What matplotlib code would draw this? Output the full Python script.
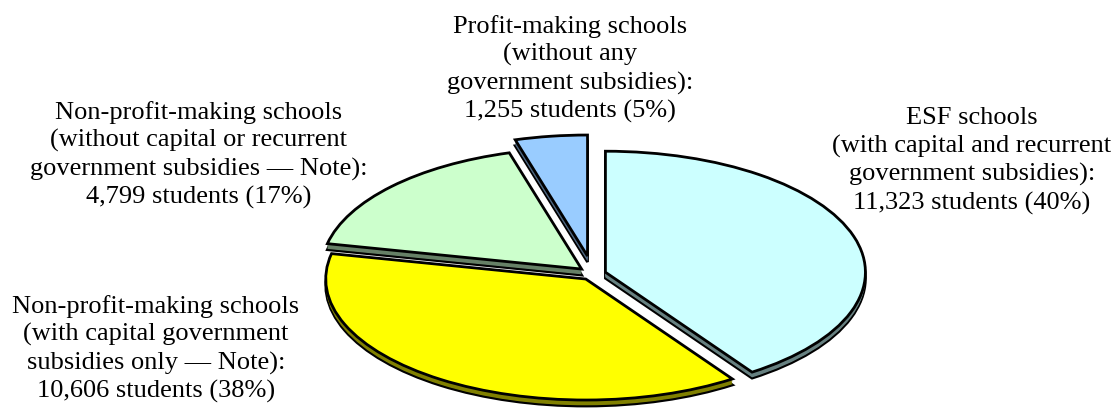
import matplotlib.pyplot as plt

# ======================
# Data
# ======================
categories = [
    "ESF schools\n(with capital and recurrent\ngovernment subsidies):",
    "Non-profit-making schools\n(with capital government\nsubsidies only — Note):",
    "Non-profit-making schools\n(without capital or recurrent\ngovernment subsidies — Note):",
    "Profit-making schools\n(without any\ngovernment subsidies):",
]
students = [11323, 10606, 4799, 1255]
shares = [40, 38, 17, 5]

# ======================
# Style
# ======================
TOP_COLORS = ["#CCFFFF", "#FFFF00", "#CCFFCC", "#99CCFF"]
SIDE_COLORS = ["#668080", "#808000", "#668066", "#4D6680"]
EXPLODE = [0.05, 0.05, 0.06, 0.15]
EDGE_W = 2.0

W, H = 1115, 412
CX, CY = 593, 274        # pie centre in pixels (from top-left)
RX, RY = 260, 121        # ellipse radii in pixels
DEPTH_PX = 6

# label block centres in pixels
LABEL_POS = [(972, 161), (156, 349), (199, 155), (570, 69)]

fig = plt.figure(figsize=(W / 100, H / 100), dpi=100)
ax = fig.add_axes([0, 0, 1, 1])

depth = DEPTH_PX / RY
steps = 8

# bottom of the extrusion with outline
ax.pie(students, explode=EXPLODE, colors=SIDE_COLORS, startangle=90,
       counterclock=False, center=(0, -depth),
       wedgeprops=dict(edgecolor="black", linewidth=EDGE_W))
# fill the side walls
for k in range(steps - 1, 0, -1):
    ax.pie(students, explode=EXPLODE, colors=SIDE_COLORS, startangle=90,
           counterclock=False, center=(0, -depth * k / steps),
           wedgeprops=dict(linewidth=0))
# top face
ax.pie(students, explode=EXPLODE, colors=TOP_COLORS, startangle=90,
       counterclock=False, center=(0, 0),
       wedgeprops=dict(edgecolor="black", linewidth=EDGE_W))

ax.set_aspect("auto")
ax.set_xlim(-CX / RX, (W - CX) / RX)
ax.set_ylim(-(H - CY) / RY, CY / RY)
ax.axis("off")

for lab, n, p, (lx, ly) in zip(categories, students, shares, LABEL_POS):
    fig.text(lx / W, 1 - ly / H, f"{lab}\n{n:,} students ({p}%)",
             ha="center", va="center", fontsize=19,
             family="Liberation Serif", linespacing=1.3)

fig.savefig("out.png", dpi=100)
